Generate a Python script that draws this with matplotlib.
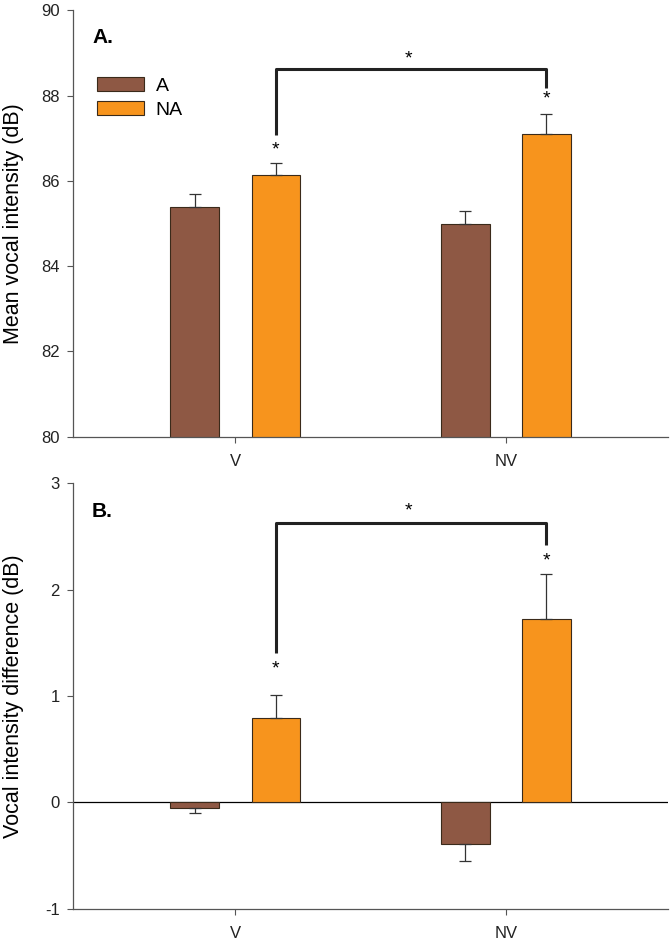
import matplotlib.pyplot as plt
import numpy as np

plt.rcParams['font.family'] = ['Liberation Sans', 'DejaVu Sans']
plt.rcParams['axes.unicode_minus'] = False

# data
groups = ['V', 'NV']
series = ['A', 'NA']
mean_a = [85.38, 84.99]
mean_na = [86.14, 87.09]
err_a = [0.31, 0.30]
err_na = [0.28, 0.49]

diff_a = [-0.05, -0.39]
diff_na = [0.79, 1.72]
diff_err_a = [0.05, 0.16]
diff_err_na = [0.22, 0.43]

colors = ['#8E5844', '#F7941D']
x = np.arange(len(groups))
w = 0.18
off = 0.15

fig = plt.figure(figsize=(6.7, 9.47), dpi=100)
ax1 = fig.add_axes([0.109, 0.539, 0.888, 0.450])
ax2 = fig.add_axes([0.109, 0.0405, 0.888, 0.4492])


def draw(ax, va, vb, ea, eb, base):
    ax.bar(x - off, va, w, color=colors[0], edgecolor='#3a2a1a', linewidth=0.8,
           label=series[0], zorder=2)
    ax.bar(x + off, vb, w, color=colors[1], edgecolor='#3a2a1a', linewidth=0.8,
           label=series[1], zorder=2)
    # one-sided error bars, pointing away from the baseline
    for xs, vals, errs in [(x - off, va, ea), (x + off, vb, eb)]:
        for xi, v, e in zip(xs, vals, errs):
            yerr = [[0], [e]] if v >= base else [[e], [0]]
            ax.errorbar(xi, v, yerr=yerr, fmt='none', ecolor='#333333', elinewidth=0.9,
                        capsize=4.5, capthick=0.9, zorder=3)
    ax.set_xlim(-0.6, 1.6)
    ax.set_xticks(x)
    ax.set_xticklabels(groups)
    for s in ['top', 'right']:
        ax.spines[s].set_visible(False)
    for s in ['left', 'bottom']:
        ax.spines[s].set_color('#555555')
        ax.spines[s].set_linewidth(0.9)
    ax.tick_params(axis='both', direction='out', length=4.5, color='#555555', labelsize=12,
                   labelcolor='#222222')
    ax.tick_params(axis='x', pad=8)
    ax.tick_params(axis='y', pad=5)


# A. panel
draw(ax1, mean_a, mean_na, err_a, err_na, 80)
ax1.set_ylim(80, 90)
ax1.set_yticks([80, 82, 84, 86, 88, 90])
ax1.set_ylabel('Mean vocal intensity (dB)', fontsize=15.5)
ax1.yaxis.set_label_coords(-0.083, 0.5)
ax1.text(0.032, 0.924, 'A.', transform=ax1.transAxes, fontsize=15, fontweight='bold')
ax1.legend(loc='upper left', bbox_to_anchor=(0.028, 0.862), frameon=False, fontsize=14,
           handlelength=2.4, handleheight=0.75, handletextpad=0.6, labelspacing=0.3,
           borderaxespad=0)
# bracket
ax1.plot([x[0] + off, x[0] + off, x[1] + off, x[1] + off], [87.08, 88.62, 88.62, 88.19],
         color='#222222', lw=2.2, solid_capstyle='butt', zorder=4)
ax1.text(np.mean(x) + off - 0.01, 88.85, '*', ha='center', va='center', fontsize=14)
ax1.text(x[0] + off, 86.72, '*', ha='center', va='center', fontsize=14)
ax1.text(x[1] + off, 87.93, '*', ha='center', va='center', fontsize=14)

# B. panel
draw(ax2, diff_a, diff_na, diff_err_a, diff_err_na, 0)
ax2.axhline(0, color='black', lw=0.9, zorder=1)
ax2.set_ylim(-1, 3)
ax2.set_yticks([-1, 0, 1, 2, 3])
ax2.set_ylabel('Vocal intensity difference (dB)', fontsize=15.5)
ax2.yaxis.set_label_coords(-0.083, 0.5)
ax2.text(0.032, 0.921, 'B.', transform=ax2.transAxes, fontsize=15, fontweight='bold')
ax2.plot([x[0] + off, x[0] + off, x[1] + off, x[1] + off], [1.4, 2.625, 2.625, 2.415],
         color='#222222', lw=2.2, solid_capstyle='butt', zorder=4)
ax2.text(np.mean(x) + off - 0.01, 2.74, '*', ha='center', va='center', fontsize=14)
ax2.text(x[0] + off, 1.25, '*', ha='center', va='center', fontsize=14)
ax2.text(x[1] + off, 2.27, '*', ha='center', va='center', fontsize=14)

fig.savefig('out.png', dpi=100)
